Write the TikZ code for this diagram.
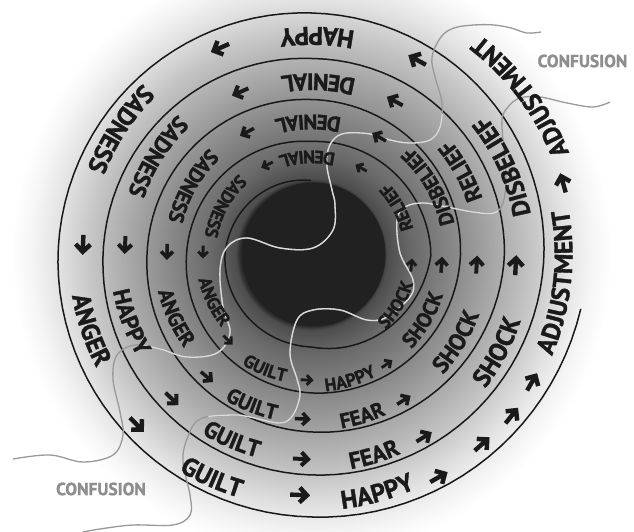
\documentclass[tikz,border=0pt]{standalone}
\usepackage{fontspec}
\newfontfamily\lblfont{PT Sans}[BoldFeatures={FakeBold=1.3}]
\usetikzlibrary{decorations.text}
\definecolor{txt}{HTML}{1A1A1A}
\definecolor{confgray}{HTML}{8E8E8E}
\pgfdeclareradialshading{spirshade}{\pgfpoint{0bp}{0bp}}{color(0bp)=(black!88); color(6bp)=(black!82); color(6.3bp)=(black!70); color(8.3bp)=(black!59); color(11.7bp)=(black!47); color(15bp)=(black!35); color(18.3bp)=(black!23); color(21.2bp)=(black!11); color(23.3bp)=(black!4); color(25bp)=(white); color(50bp)=(white)}
\tikzset{
  garr/.pic={\fill[txt] (1,0)--(0.1,0.9)--(-0.218,0.582)--(0.144,0.22)--(-1,0.22)--(-1,-0.22)--(0.144,-0.22)--(-0.218,-0.582)--(0.1,-0.9)--cycle;},
  spiralline/.style={draw=black!90, line width=1.5pt},
  confline/.style={draw=black!40, line width=1.3pt},
  conflight/.style={draw=black!14, line width=1.3pt},
  conf/.style={font=\lblfont\bfseries\fontsize{17.5}{17.5}\selectfont, text=confgray, inner sep=0pt}
}
\newcommand\ringtext[4]{%
  \pgfmathsetmacro\rb{#2+0.35*#3}%
  \path[decorate,decoration={text along path,text align=center,
    text={|\lblfont\bfseries\fontsize{#3}{#3}\selectfont\color{txt}|#4}}]
    (#1-70:\rb) arc[start angle=#1-70,end angle=#1+70,radius=\rb];}
\newcommand\garrow[3]{\pic[rotate=#1+90,scale=#3] at (#1:#2) {garr};}
\def\SR{{276.5,262.5,253.5,241.5,232.5,220.5,208.5,196,193,177.5,164.5,155,149,138.5,125,113,119.5,92.5,86.5,74,72,72}}
\begin{document}
\begin{tikzpicture}[x=1pt,y=1pt]
\useasboundingbox (0,0) rectangle (634,532);
\fill[white] (0,0) rectangle (634,532);
\begin{scope}[shift={(311.5,277.5)}]
  \shade[shading=spirshade] (0,0) circle[radius=300];
  \fill[black!87] (2,0) circle[radius=72];
  \draw[spiralline] plot[domain=0.127:19, samples=500, variable=\t]
    ({-90*\t}:{\SR[int(\t)]+(\SR[int(\t)+1]-\SR[int(\t)])*(\t-int(\t))});
\end{scope}
% confusion threads
\draw[confline] plot[smooth, tension=0.6] coordinates {(541,500) (527,499) (511,504) (494,507) (474,507) (454,504) (441,495) (432,475) (435,455) (442,429) (440,405) (430,392) (410,389) (390,392) (370,398) (347,399) (335,394) (328,382) (327,365) (332,342) (335,327) (333,302) (313,284) (280,284) (247,294) (227,285) (220,262) (223,225) (230,199) (217,179) (187,175) (160,183) (135,187) (117,177) (113,153) (120,120) (123,97) (113,77) (83,70) (50,77) (13,73)};
\draw[confline] plot[smooth, tension=0.6] coordinates {(610,430) (593,425) (567,429) (540,435) (520,434) (508,425) (502,412) (504,382) (506,352) (503,329) (494,319) (473,320) (447,325) (423,329) (405,325) (397,312) (400,279) (413,252) (410,235) (387,215) (367,212) (340,222) (313,222) (297,212) (290,179) (297,153) (300,137) (293,117) (280,109) (250,115) (233,117) (200,113) (187,93) (183,70) (190,37) (190,17) (173,7) (133,7) (100,3) (83,0)};
\begin{scope}
  \clip (311.5,277.5) circle[radius=192];
  \draw[conflight] plot[smooth, tension=0.6] coordinates {(541,500) (527,499) (511,504) (494,507) (474,507) (454,504) (441,495) (432,475) (435,455) (442,429) (440,405) (430,392) (410,389) (390,392) (370,398) (347,399) (335,394) (328,382) (327,365) (332,342) (335,327) (333,302) (313,284) (280,284) (247,294) (227,285) (220,262) (223,225) (230,199) (217,179) (187,175) (160,183) (135,187) (117,177) (113,153) (120,120) (123,97) (113,77) (83,70) (50,77) (13,73)};
  \draw[conflight] plot[smooth, tension=0.6] coordinates {(610,430) (593,425) (567,429) (540,435) (520,434) (508,425) (502,412) (504,382) (506,352) (503,329) (494,319) (473,320) (447,325) (423,329) (405,325) (397,312) (400,279) (413,252) (410,235) (387,215) (367,212) (340,222) (313,222) (297,212) (290,179) (297,153) (300,137) (293,117) (280,109) (250,115) (233,117) (200,113) (187,93) (183,70) (190,37) (190,17) (173,7) (133,7) (100,3) (83,0)};
\end{scope}
\begin{scope}[shift={(311.5,277.5)}]
  % ring 1
  \ringtext{-27.6}{210.4}{25.5}{SHOCK}
  \ringtext{24.6}{214}{25}{DISBELIEF}
  \ringtext{88.6}{218.6}{25.5}{HAPPY}
  \ringtext{146.8}{231}{25.5}{SADNESS}
  \ringtext{198.8}{234}{25.5}{ANGER}
  \ringtext{246}{244.7}{25.5}{GUILT}
  \ringtext{285.4}{247.3}{25.5}{HAPPY}
  \ringtext{-6.5}{252}{25.5}{ADJUSTMENT}
  \ringtext{37}{268}{25.5}{ADJUSTMENT}
  % ring 2
  \ringtext{-31}{169.8}{23.5}{SHOCK}
  \ringtext{29}{172}{23}{RELIEF}
  \ringtext{87.8}{172.6}{23.5}{DENIAL}
  \ringtext{147.6}{185}{23.5}{SADNESS}
  \ringtext{200.4}{193.6}{23.5}{HAPPY}
  \ringtext{246.8}{201.8}{23.5}{GUILT}
  \ringtext{287.3}{210}{23.5}{FEAR}
  % ring 3
  \ringtext{-30.2}{130.2}{21}{SHOCK}
  \ringtext{30}{139}{20.5}{DISBELIEF}
  \ringtext{91.5}{132.5}{21}{DENIAL}
  \ringtext{150.2}{140}{21}{SADNESS}
  \ringtext{204.9}{150.5}{21}{ANGER}
  \ringtext{248.4}{161.8}{21}{GUILT}
  \ringtext{287.4}{169.2}{21}{FEAR}
  % ring 4
  \ringtext{-30.6}{99.3}{18}{SHOCK}
  \ringtext{28.8}{98.7}{18}{RELIEF}
  \ringtext{92.6}{97.6}{18}{DENIAL}
  \ringtext{151.1}{102}{18}{SADNESS}
  \ringtext{205.7}{109.4}{18}{ANGER}
  \ringtext{247.9}{123.6}{18}{GUILT}
  \ringtext{287.1}{131.3}{18}{HAPPY}
  % arrows ring 1
  \garrow{-3}{204.5}{10}
  \garrow{61.5}{221.3}{10}
  \garrow{113.9}{225.9}{10}
  \garrow{177.6}{228.7}{10}
  \garrow{-135.7}{243.9}{10}
  \garrow{-92.7}{240.8}{10}
  \garrow{-60.2}{256.5}{10}
  \garrow{-48}{255}{10}
  \garrow{-38.8}{257}{10}
  \garrow{-30}{254.7}{10}
  \garrow{15.9}{261.5}{10}
  % arrows ring 2
  \garrow{-3.5}{165.5}{9}
  \garrow{61.5}{174.5}{9}
  \garrow{113.7}{177.5}{9}
  \garrow{177.1}{186.7}{9}
  \garrow{-134}{200.8}{9}
  \garrow{-92.7}{204.7}{9}
  \garrow{-58.3}{214.4}{9}
  % arrows ring 3
  \garrow{-4.5}{130.5}{8}
  \garrow{60.1}{135.5}{8}
  \garrow{117.8}{138.4}{8}
  \garrow{179}{144.5}{8}
  \garrow{-130.5}{161}{8}
  \garrow{-93}{164.7}{8}
  \garrow{-57.6}{172.4}{8}
  % arrows ring 4
  \garrow{-6}{100.5}{6.5}
  \garrow{60.2}{99.7}{6.5}
  \garrow{116.4}{100}{6.5}
  \garrow{178.7}{108.5}{6.5}
  \garrow{-134.3}{119.5}{6.5}
  \garrow{-92}{125.6}{6.5}
  \garrow{-55.4}{133}{6.5}
\end{scope}
\node[conf] (conf1) at (582.5,471) {CONFUSION};
\node[conf] (conf2) at (101,43) {CONFUSION};
\end{tikzpicture}
\end{document}
